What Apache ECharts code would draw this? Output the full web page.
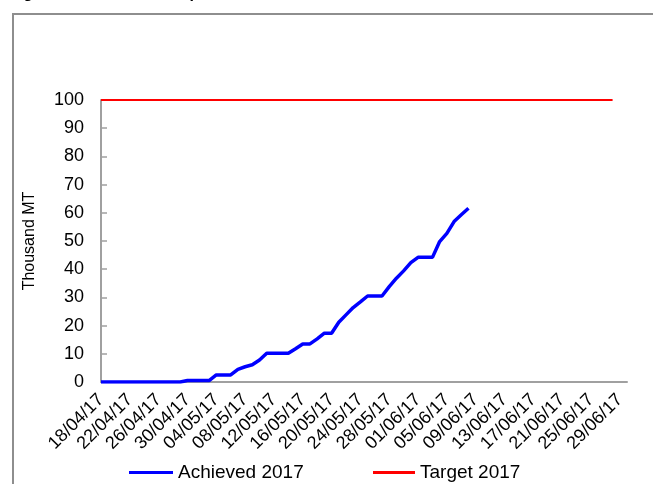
<!DOCTYPE html>
<html>
<head>
<meta charset="utf-8">
<script src="https://cdn.jsdelivr.net/npm/echarts@6/dist/echarts.min.js"></script>
<style>
  html, body { margin: 0; padding: 0; background: #fff; }
  #chart { width: 653px; height: 484px; }
</style>
</head>
<body>
<div id="chart"></div>
<script>
// Daily dates on the category axis (dd/mm/yy)
const dates = [
  '18/04/17','19/04/17','20/04/17','21/04/17','22/04/17','23/04/17','24/04/17','25/04/17',
  '26/04/17','27/04/17','28/04/17','29/04/17','30/04/17','01/05/17','02/05/17','03/05/17',
  '04/05/17','05/05/17','06/05/17','07/05/17','08/05/17','09/05/17','10/05/17','11/05/17',
  '12/05/17','13/05/17','14/05/17','15/05/17','16/05/17','17/05/17','18/05/17','19/05/17',
  '20/05/17','21/05/17','22/05/17','23/05/17','24/05/17','25/05/17','26/05/17','27/05/17',
  '28/05/17','29/05/17','30/05/17','31/05/17','01/06/17','02/06/17','03/06/17','04/06/17',
  '05/06/17','06/06/17','07/06/17','08/06/17','09/06/17','10/06/17','11/06/17','12/06/17',
  '13/06/17','14/06/17','15/06/17','16/06/17','17/06/17','18/06/17','19/06/17','20/06/17',
  '21/06/17','22/06/17','23/06/17','24/06/17','25/06/17','26/06/17','27/06/17','28/06/17',
  '29/06/17','30/06/17'
];

// Cumulative quantity achieved, thousand MT (one value per day up to 08/06/17)
const achieved2017 = [
  0, 0, 0, 0, 0, 0, 0, 0, 0, 0, 0, 0,
  0.5, 0.5, 0.5, 0.5,
  2.5, 2.5, 2.5, 4.5, 5.4, 6.1, 7.8,
  10.2, 10.2, 10.2, 10.2, 11.8, 13.5, 13.5, 15.3, 17.3, 17.3,
  21.2, 23.8, 26.4, 28.4, 30.5, 30.5, 30.5,
  33.8, 36.8, 39.4, 42.3, 44.2, 44.2, 44.2,
  49.8, 52.7, 56.9, 59.3, 61.6
];

// Seasonal target, thousand MT (through 28/06/17)
const target2017 = [
  100,100,100,100,100,100,100,100,100,100,100,100,100,100,100,100,100,100,
  100,100,100,100,100,100,100,100,100,100,100,100,100,100,100,100,100,100,
  100,100,100,100,100,100,100,100,100,100,100,100,100,100,100,100,100,100,
  100,100,100,100,100,100,100,100,100,100,100,100,100,100,100,100,100,100
];

const seriesNames = ['Achieved 2017', 'Target 2017'];
const yName = 'Thousand MT';
const titleText = 'Figure 1: Cumulative export achievement 2017';

const FONT = '"Liberation Sans", Arial, sans-serif';
const chart = echarts.init(document.getElementById('chart'), null, { renderer: 'canvas' });

chart.setOption({
  animation: false,
  backgroundColor: '#ffffff',
  grid: { left: 101, right: 26, top: 100, bottom: 102, containLabel: false },
  graphic: [
    {
      type: 'rect',
      silent: true,
      shape: { x: 13, y: 14, width: 700, height: 500 },
      style: { fill: 'none', stroke: '#8e8e8e', lineWidth: 2 }
    },
    {
      type: 'text',
      silent: true,
      x: 9,
      y: -14.5,
      style: { text: titleText, font: 'bold 16px ' + FONT, fill: '#000' }
    }
  ],
  legend: [
    {
      left: 129, top: 463, padding: 0,
      data: [seriesNames[0]],
      icon: 'rect', itemWidth: 44, itemHeight: 3,
      textStyle: { fontFamily: FONT, fontSize: 19, color: '#000' }
    },
    {
      left: 373, top: 463, padding: 0,
      data: [seriesNames[1]],
      icon: 'rect', itemWidth: 42, itemHeight: 3,
      textStyle: { fontFamily: FONT, fontSize: 19, color: '#000' }
    }
  ],
  xAxis: {
    type: 'category',
    data: dates,
    boundaryGap: false,
    axisLine: { lineStyle: { color: '#a0a0a0', width: 2 } },
    axisTick: { show: false },
    axisLabel: {
      interval: 3,
      rotate: 45,
      margin: 15,
      fontFamily: FONT,
      fontSize: 18,
      color: '#000'
    },
    splitLine: { show: false }
  },
  yAxis: {
    type: 'value',
    min: 0, max: 100, interval: 10,
    name: yName,
    nameLocation: 'middle',
    nameGap: 63,
    nameTextStyle: { fontFamily: FONT, fontSize: 16, color: '#000' },
    axisLine: { show: true, lineStyle: { color: '#a0a0a0', width: 2 } },
    axisTick: { show: true, inside: true, length: 6, lineStyle: { color: '#a0a0a0', width: 1.5 } },
    axisLabel: { margin: 17, fontFamily: FONT, fontSize: 18, color: '#000' },
    splitLine: { show: false }
  },
  series: [
    {
      name: seriesNames[0],
      type: 'line',
      data: achieved2017,
      symbol: 'none',
      lineStyle: { color: '#0000ff', width: 3.5 },
      itemStyle: { color: '#0000ff' },
      z: 3
    },
    {
      name: seriesNames[1],
      type: 'line',
      data: target2017,
      symbol: 'none',
      lineStyle: { color: '#ff0000', width: 2 },
      itemStyle: { color: '#ff0000' },
      z: 2
    }
  ]
});
</script>
</body>
</html>
